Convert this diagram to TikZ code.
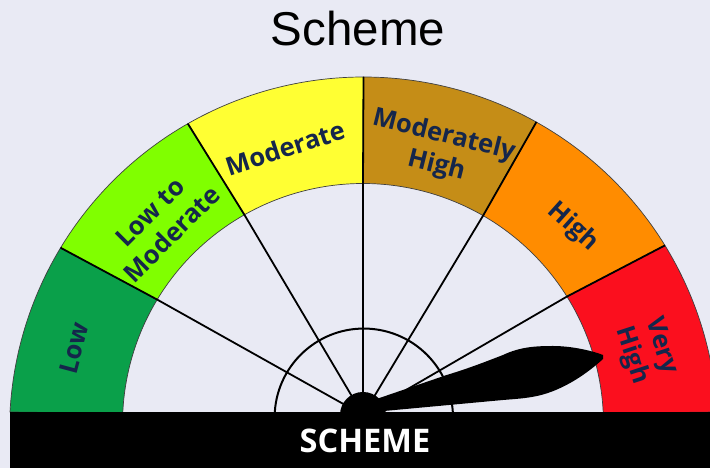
\documentclass[tikz,border=0pt]{standalone}
\usepackage{fontspec}
\usetikzlibrary{calc}
\setmainfont{Open Sans}
\newfontfamily\titlefont{Liberation Sans}
\definecolor{pagebg}{HTML}{E9EAF4}
\definecolor{lowc}{HTML}{0AA04A}
\definecolor{lowmodc}{HTML}{80FF00}
\definecolor{modc}{HTML}{FFFF33}
\definecolor{modhighc}{HTML}{C58D17}
\definecolor{highc}{HTML}{FF8C00}
\definecolor{veryhighc}{HTML}{FB0F1E}
\definecolor{inkc}{HTML}{15264B}
\tikzset{
  band/.style={draw=black!75,line width=0.7pt},
  spoke/.style={draw=black,line width=1.8pt},
  seglabel/.style={text=inkc,font=\fontsize{25.5}{31}\selectfont\bfseries,align=center,inner sep=0pt},
}
\begin{document}
\begin{tikzpicture}[x=1pt,y=1pt]
\useasboundingbox (0,0) rectangle (710,468);
\fill[pagebg] (0,0) rectangle (710,468);
\clip (0,0) rectangle (710,468);
\coordinate (O) at (363.5,37);
\coordinate (I) at (363,44);
\coordinate (hubc) at (363,53);
\def\Ro{354}\def\Ri{240.5}
\newcommand{\sector}[5]{% colour, outer a,b, inner a,b
  \path[fill=#1,band] ($(O)+(#2:\Ro)$) arc[start angle=#2,end angle=#3,radius=\Ro]
    -- ($(I)+(#5:\Ri)$) arc[start angle=#5,end angle=#4,radius=\Ri] -- cycle;}
\sector{lowc}{176.92}{148.83}{177.5}{148.85}
\sector{lowmodc}{148.83}{119.75}{148.85}{119.55}
\sector{modc}{119.75}{90}{119.55}{90}
\sector{modhighc}{90}{60.77}{90}{60.04}
\sector{highc}{60.77}{31.62}{60.04}{32}
\sector{veryhighc}{31.62}{3.08}{32}{2.5}
% dial ring
\draw[black,line width=2pt] (274.8,56) arc[start angle=176.3,end angle=3.7,radius=89.2];
% spokes
\coordinate (s1) at ($(O)+(148.83:\Ro)$);
\coordinate (s2) at ($(O)+(119.75:\Ro)$);
\coordinate (s3) at ($(O)+(90:\Ro)$);
\coordinate (s4) at ($(O)+(60.77:\Ro)$);
\coordinate (s5) at ($(O)+(31.62:\Ro)$);
\coordinate (t1) at ($(I)+(148.85:\Ri)$);
\coordinate (t2) at ($(I)+(119.55:\Ri)$);
\coordinate (t3) at ($(I)+(90:\Ri)$);
\coordinate (t4) at ($(I)+(60.04:\Ri)$);
\coordinate (t5) at ($(I)+(32:\Ri)$);
\foreach \i in {1,...,5} \draw[spoke,line join=round] (s\i) -- (t\i) -- (hubc);
% base bar, hub, needle
\fill[black] (9.5,0) rectangle (710,56);
\fill[black] (hubc) circle[radius=23];
\fill[black] (378,69.5) -- (446.7,93)
  .. controls (470,100) and (490,108) .. (503,113)
  .. controls (520,121) and (535,122) .. (553,122)
  .. controls (570,122) and (590,118) .. (603,113)
  -- (603,109)
  .. controls (590,97) and (565,78) .. (537,72)
  .. controls (525,69.5) and (515,69) .. (503,68) -- (384,57) -- cycle;
% labels
\node[text=black,font=\titlefont\fontsize{47.5}{50}\selectfont,inner sep=0pt] (title) at (358,439) {Scheme};
\node[text=white,font=\fontsize{32.5}{34}\selectfont\bfseries,inner sep=0pt] (bar) at (365,27) {SCHEME};
\node[seglabel,rotate=75] (lLow) at (74,120) {Low};
\node[seglabel,rotate=45] (lLM) at (161,245) {Low to\\Moderate};
\node[seglabel,rotate=18] (lM) at (285,320) {Moderate};
\node[seglabel,rotate=-14] (lMH) at (440,317) {Moderately\\High};
\node[seglabel,rotate=-42] (lH) at (573,241) {High};
\node[seglabel,rotate=-72] (lVH) at (646,117) {Very\\High};
\end{tikzpicture}
\end{document}
